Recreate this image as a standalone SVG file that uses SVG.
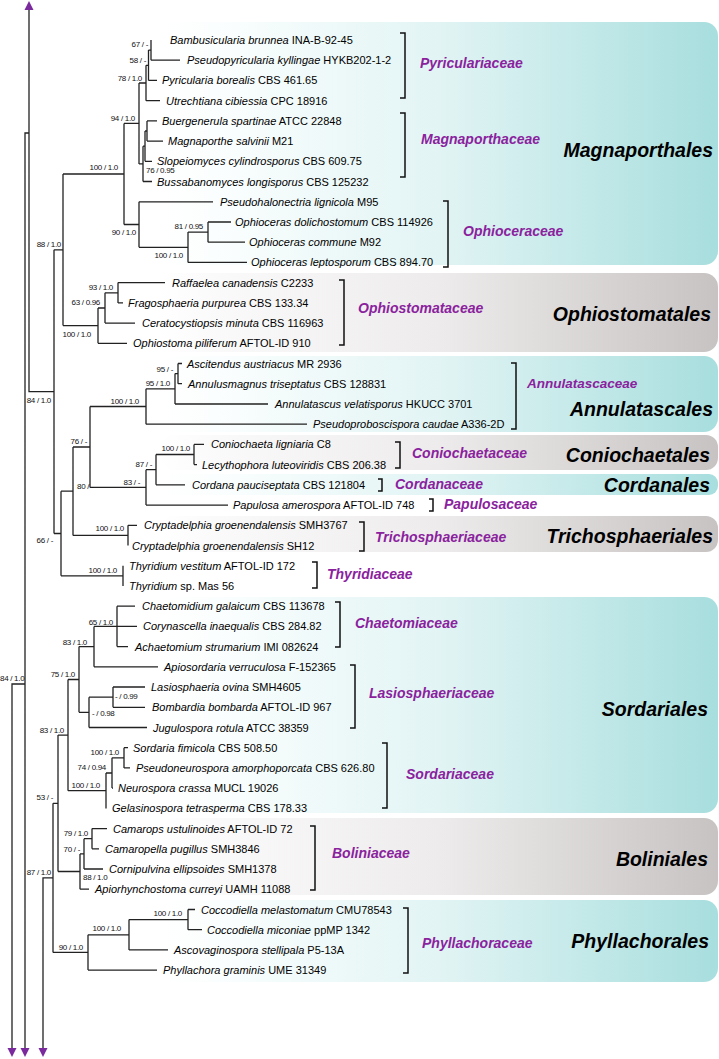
<svg xmlns="http://www.w3.org/2000/svg" width="719" height="1059" viewBox="0 0 719 1059">
<style>
.tx{font-family:"Liberation Sans",Arial,sans-serif;font-size:11px;fill:#000}
.i{font-style:italic}
.bs{font-family:"Liberation Sans Narrow","Liberation Sans",Arial,sans-serif;font-size:8px;fill:#111;letter-spacing:-0.3px}
.e{text-anchor:end}
.fam{font-family:"Liberation Sans",Arial,sans-serif;font-size:14px;font-weight:bold;font-style:italic;fill:#8a229e}
.ord{font-family:"Liberation Sans",Arial,sans-serif;font-size:19.5px;font-weight:bold;font-style:italic;fill:#000;text-anchor:end}
.br{fill:none;stroke:#111;stroke-width:1.5}
.tree{fill:none;stroke:#222;stroke-width:1.3}
.arr{fill:#7b2a9e}
</style>
<defs>
<linearGradient id="gTeal" x1="0" y1="0" x2="1" y2="0">
<stop offset="0" stop-color="#ffffff"/>
<stop offset="0.1" stop-color="#fbfefe"/>
<stop offset="0.5" stop-color="#e2f4f4"/>
<stop offset="1" stop-color="#a8dede"/>
</linearGradient>
<linearGradient id="gGray" x1="0" y1="0" x2="1" y2="0">
<stop offset="0" stop-color="#ffffff"/>
<stop offset="0.1" stop-color="#fbfafa"/>
<stop offset="0.5" stop-color="#edebeb"/>
<stop offset="1" stop-color="#c8c3c3"/>
</linearGradient>
<path id="aDown" d="M-4.5,-9 L4.5,-9 L0,0 Z"/>
</defs>
<rect width="719" height="1059" fill="#fff"/>
<g id="order-boxes">
<rect x="160" y="22" width="558" height="243" rx="14" fill="url(#gTeal)"/>
<rect x="160" y="273" width="558" height="79" rx="14" fill="url(#gGray)"/>
<rect x="160" y="356" width="558" height="76" rx="14" fill="url(#gTeal)"/>
<rect x="160" y="435" width="558" height="35" rx="12" fill="url(#gGray)"/>
<rect x="160" y="474" width="558" height="21" rx="9" fill="url(#gTeal)"/>
<rect x="160" y="516" width="558" height="36" rx="12" fill="url(#gGray)"/>
<rect x="160" y="597" width="558" height="216" rx="14" fill="url(#gTeal)"/>
<rect x="160" y="818" width="558" height="77" rx="14" fill="url(#gGray)"/>
<rect x="160" y="900" width="558" height="82" rx="14" fill="url(#gTeal)"/>
</g>
<g id="connectors">
<path class="tree" d="M29,9 V391.7 H54 M29,133 H25 V1049 M25,684 H12 V1049 M53,877.9 H43 V1049
M54,249.8 V533.5 M54,249.8 H63 M63,174 V325.6
M63,174 H124 M124,123.4 V224.5
M124,123.4 H139 M139,83 V163.9
M139,83 H146 M146,65.3 V100.7 M146,100.7 H160
M146,65.3 H148.5 M148.5,50.1 V80.4 M148.5,80.4 H157
M148.5,50.1 H151 M151,40 V60.2 M151,60.2 H180
M139,163.9 H143 M143,146.2 V181.5 M143,181.5 H152
M143,146.2 H145 M145,131 V161.3 M145,161.3 H152
M145,131 H147 M147,120.9 V141.1 M147,120.9 H157 M147,141.1 H163
M124,224.5 H139 M139,201.8 V247.3 M139,201.8 H213
M139,247.3 H188 M188,232.1 V262.4 M188,262.4 H247
M188,232.1 H208 M208,222 V242.2 M208,222 H231 M208,242.2 H245
M63,325.6 H98 M98,308 V343.3 M98,343.3 H127
M98,308 H105 M105,292.8 V323.1 M105,323.1 H135
M105,292.8 H118 M118,282.6 V302.9 M118,282.6 H165 M118,302.9 H123
M54,533.5 H61 M61,491.2 V575.8
M61,575.8 H123 M123,565.7 V585.9
M61,491.2 H73 M73,447 V535.4
M73,535.4 H128 M128,525.3 V545.5 M128,525.3 H137
M73,447 H90 M90,406.5 V487.4
M90,406.5 H146 M146,388.8 V424.2 M146,424.2 H307
M146,388.8 H175 M175,373.6 V404 M175,404 H268
M175,373.6 H178 M178,363.5 V383.7 M178,363.5 H182 M178,383.7 H182
M90,487.4 H146 M146,469.7 V505.1 M146,505.1 H228
M146,469.7 H156 M156,454.5 V484.8 M156,484.8 H185
M156,454.5 H194 M194,444.4 V464.6 M194,444.4 H204 M194,464.6 H197
M53,803.3 V952.4
M53,803.3 H58 M58,735.1 V871.5
M58,735.1 H68 M68,679.5 V790.7
M68,679.5 H79 M79,646.6 V712.3
M79,646.6 H94 M94,626.4 V666.8 M94,666.8 H158
M94,626.4 H117 M117,606.2 V646.6 M117,606.2 H135 M117,626.4 H137 M117,646.6 H128
M79,712.3 H89 M89,697.2 V727.5 M89,727.5 H147
M89,697.2 H113 M113,687 V707.3 M113,687 H145 M113,707.3 H145
M68,790.7 H106 M106,773 V808.4
M106,773 H112 M112,757.8 V788.1 M112,788.1 H113
M112,757.8 H124 M124,747.7 V767.9 M124,747.7 H128 M124,767.9 H130
M58,871.5 H80 M80,853.9 V889.2 M80,889.2 H89
M80,853.9 H84 M84,838.7 V869 M84,869 H103
M84,838.7 H92 M92,828.6 V848.8 M92,828.6 H107 M92,848.8 H99
M53,952.4 H88 M88,934.8 V970.1 M88,970.1 H157
M88,934.8 H129 M129,919.6 V949.9 M129,949.9 H168
M129,919.6 H188 M188,909.5 V929.7 M188,909.5 H195 M188,929.7 H202"/>
<path class="arr" d="M24.5,10 L33.5,10 L29,1 Z"/>
<use href="#aDown" x="12" y="1057" class="arr"/>
<use href="#aDown" x="25" y="1057" class="arr"/>
<use href="#aDown" x="43" y="1057" class="arr"/>
</g>
<g id="support">
<text class="bs e" x="148" y="47">67 / -</text>
<text class="bs e" x="146" y="63">58 / -</text>
<text class="bs e" x="142" y="81">78 / 1.0</text>
<text class="bs e" x="135" y="121">94 / 1.0</text>
<text class="bs" x="146" y="173">76 / 0.95</text>
<text class="bs e" x="118" y="170">100 / 1.0</text>
<text class="bs e" x="136" y="235">90 / 1.0</text>
<text class="bs e" x="203" y="229">81 / 0.95</text>
<text class="bs e" x="183" y="258">100 / 1.0</text>
<text class="bs e" x="61" y="247">88 / 1.0</text>
<text class="bs e" x="113" y="290">93 / 1.0</text>
<text class="bs e" x="100" y="305">63 / 0.96</text>
<text class="bs e" x="91" y="337">100 / 1.0</text>
<text class="bs e" x="173" y="372">95 / -</text>
<text class="bs e" x="170" y="386">95 / 1.0</text>
<text class="bs e" x="139" y="404">100 / 1.0</text>
<text class="bs e" x="51" y="403">84 / 1.0</text>
<text class="bs e" x="87" y="444">76 / -</text>
<text class="bs e" x="190" y="451">100 / 1.0</text>
<text class="bs e" x="152" y="467">87 / -</text>
<text class="bs e" x="140" y="485">83 / -</text>
<text class="bs" x="77" y="489">80 / -</text>
<text class="bs e" x="124" y="531">100 / 1.0</text>
<text class="bs e" x="53" y="543">66 / -</text>
<text class="bs e" x="117" y="573">100 / 1.0</text>
<text class="bs e" x="113" y="625">65 / 1.0</text>
<text class="bs e" x="87" y="645">83 / 1.0</text>
<text class="bs e" x="75" y="677">75 / 1.0</text>
<text class="bs" x="115" y="699">- / 0.99</text>
<text class="bs" x="92" y="716">- / 0.98</text>
<text class="bs" x="0" y="681">84 / 1.0</text>
<text class="bs e" x="64" y="733">83 / 1.0</text>
<text class="bs e" x="119" y="755">100 / 1.0</text>
<text class="bs e" x="106" y="770">74 / 0.94</text>
<text class="bs e" x="100" y="788">100 / 1.0</text>
<text class="bs e" x="53" y="800">53 / -</text>
<text class="bs e" x="88" y="836">79 / 1.0</text>
<text class="bs e" x="80" y="852">70 / -</text>
<text class="bs" x="83" y="880">88 / 1.0</text>
<text class="bs e" x="51" y="875">87 / 1.0</text>
<text class="bs e" x="182" y="916">100 / 1.0</text>
<text class="bs e" x="121" y="931">100 / 1.0</text>
<text class="bs e" x="83" y="950">90 / 1.0</text>
</g>
<g id="taxa">
<g id="t01"><text class="tx" x="170" y="44"><tspan class="i">Bambusicularia brunnea</tspan> INA-B-92-45</text></g>
<g id="t02"><text class="tx" x="187" y="64.2"><tspan class="i">Pseudopyricularia kyllingae</tspan> HYKB202-1-2</text></g>
<g id="t03"><text class="tx" x="162" y="84.4"><tspan class="i">Pyricularia borealis</tspan> CBS 461.65</text></g>
<g id="t04"><text class="tx" x="166" y="104.7"><tspan class="i">Utrechtiana cibiessia</tspan> CPC 18916</text></g>
<g id="t05"><text class="tx" x="162" y="124.9"><tspan class="i">Buergenerula spartinae</tspan> ATCC 22848</text></g>
<g id="t06"><text class="tx" x="168" y="145.1"><tspan class="i">Magnaporthe salvinii</tspan> M21</text></g>
<g id="t07"><text class="tx" x="157" y="165.3"><tspan class="i">Slopeiomyces cylindrosporus</tspan> CBS 609.75</text></g>
<g id="t08"><text class="tx" x="157" y="185.5"><tspan class="i">Bussabanomyces longisporus</tspan> CBS 125232</text></g>
<g id="t09"><text class="tx" x="220" y="205.8"><tspan class="i">Pseudohalonectria lignicola</tspan> M95</text></g>
<g id="t10"><text class="tx" x="235" y="226"><tspan class="i">Ophioceras dolichostomum</tspan> CBS 114926</text></g>
<g id="t11"><text class="tx" x="249" y="246.2"><tspan class="i">Ophioceras commune</tspan> M92</text></g>
<g id="t12"><text class="tx" x="251" y="266.4"><tspan class="i">Ophioceras leptosporum</tspan> CBS 894.70</text></g>
<g id="t13"><text class="tx" x="172" y="286.6"><tspan class="i">Raffaelea canadensis</tspan> C2233</text></g>
<g id="t14"><text class="tx" x="128" y="306.9"><tspan class="i">Fragosphaeria purpurea</tspan> CBS 133.34</text></g>
<g id="t15"><text class="tx" x="142" y="327.1"><tspan class="i">Ceratocystiopsis minuta</tspan> CBS 116963</text></g>
<g id="t16"><text class="tx" x="133" y="347.3"><tspan class="i">Ophiostoma piliferum</tspan> AFTOL-ID 910</text></g>
<g id="t17"><text class="tx" x="187" y="367.5"><tspan class="i">Ascitendus austriacus</tspan> MR 2936</text></g>
<g id="t18"><text class="tx" x="188" y="387.7"><tspan class="i">Annulusmagnus triseptatus</tspan> CBS 128831</text></g>
<g id="t19"><text class="tx" x="275" y="408"><tspan class="i">Annulatascus velatisporus</tspan> HKUCC 3701</text></g>
<g id="t20"><text class="tx" x="313" y="428.2"><tspan class="i">Pseudoproboscispora caudae</tspan> A336-2D</text></g>
<g id="t21"><text class="tx" x="211" y="448.4"><tspan class="i">Coniochaeta ligniaria</tspan> C8</text></g>
<g id="t22"><text class="tx" x="202" y="468.6"><tspan class="i">Lecythophora luteoviridis</tspan> CBS 206.38</text></g>
<g id="t23"><text class="tx" x="192" y="488.8"><tspan class="i">Cordana pauciseptata</tspan> CBS 121804</text></g>
<g id="t24"><text class="tx" x="233" y="509.1"><tspan class="i">Papulosa amerospora</tspan> AFTOL-ID 748</text></g>
<g id="t25"><text class="tx" x="144" y="529.3"><tspan class="i">Cryptadelphia groenendalensis</tspan> SMH3767</text></g>
<g id="t26"><text class="tx" x="132" y="549.5"><tspan class="i">Cryptadelphia groenendalensis</tspan> SH12</text></g>
<g id="t27"><text class="tx" x="129" y="569.7"><tspan class="i">Thyridium vestitum</tspan> AFTOL-ID 172</text></g>
<g id="t28"><text class="tx" x="129" y="589.9"><tspan class="i">Thyridium</tspan> sp. Mas 56</text></g>
<g id="t29"><text class="tx" x="142" y="610.2"><tspan class="i">Chaetomidium galaicum</tspan> CBS 113678</text></g>
<g id="t30"><text class="tx" x="143" y="630.4"><tspan class="i">Corynascella inaequalis</tspan> CBS 284.82</text></g>
<g id="t31"><text class="tx" x="135" y="650.6"><tspan class="i">Achaetomium strumarium</tspan> IMI 082624</text></g>
<g id="t32"><text class="tx" x="164" y="670.8"><tspan class="i">Apiosordaria verruculosa</tspan> F-152365</text></g>
<g id="t33"><text class="tx" x="151" y="691"><tspan class="i">Lasiosphaeria ovina</tspan> SMH4605</text></g>
<g id="t34"><text class="tx" x="152" y="711.3"><tspan class="i">Bombardia bombarda</tspan> AFTOL-ID 967</text></g>
<g id="t35"><text class="tx" x="153" y="731.5"><tspan class="i">Jugulospora rotula</tspan> ATCC 38359</text></g>
<g id="t36"><text class="tx" x="133" y="751.7"><tspan class="i">Sordaria fimicola</tspan> CBS 508.50</text></g>
<g id="t37"><text class="tx" x="136" y="771.9"><tspan class="i">Pseudoneurospora amorphoporcata</tspan> CBS 626.80</text></g>
<g id="t38"><text class="tx" x="118" y="792.1"><tspan class="i">Neurospora crassa</tspan> MUCL 19026</text></g>
<g id="t39"><text class="tx" x="112" y="812.4"><tspan class="i">Gelasinospora tetrasperma</tspan> CBS 178.33</text></g>
<g id="t40"><text class="tx" x="113" y="832.6"><tspan class="i">Camarops ustulinoides</tspan> AFTOL-ID 72</text></g>
<g id="t41"><text class="tx" x="105" y="852.8"><tspan class="i">Camaropella pugillus</tspan> SMH3846</text></g>
<g id="t42"><text class="tx" x="109" y="873"><tspan class="i">Cornipulvina ellipsoides</tspan> SMH1378</text></g>
<g id="t43"><text class="tx" x="95" y="893.2"><tspan class="i">Apiorhynchostoma curreyi</tspan> UAMH 11088</text></g>
<g id="t44"><text class="tx" x="201" y="913.5"><tspan class="i">Coccodiella melastomatum</tspan> CMU78543</text></g>
<g id="t45"><text class="tx" x="207" y="933.7"><tspan class="i">Coccodiella miconiae</tspan> ppMP 1342</text></g>
<g id="t46"><text class="tx" x="174" y="953.9"><tspan class="i">Ascovaginospora stellipala</tspan> P5-13A</text></g>
<g id="t47"><text class="tx" x="163" y="974.1"><tspan class="i">Phyllachora graminis</tspan> UME 31349</text></g>
</g>
<g id="families">
<g id="f-Pyriculariaceae"><path class="br" d="M400,33 H405 V98 H400"/><text class="fam" x="420" y="68">Pyriculariaceae</text></g>
<g id="f-Magnaporthaceae"><path class="br" d="M400,113 H405 V177 H400"/><text class="fam" x="421" y="144">Magnaporthaceae</text></g>
<g id="f-Ophioceraceae"><path class="br" d="M443,201 H448 V267 H443"/><text class="fam" x="463" y="236">Ophioceraceae</text></g>
<g id="f-Ophiostomataceae"><path class="br" d="M339,280 H344 V345 H339"/><text class="fam" x="358" y="313">Ophiostomataceae</text></g>
<g id="f-Annulatascaceae"><path class="br" d="M511,363 H516 V429 H511"/><text class="fam" x="527" y="388" style="font-size:13.5px">Annulatascaceae</text></g>
<g id="f-Coniochaetaceae"><path class="br" d="M395,442 H400 V468 H395"/><text class="fam" x="412" y="458">Coniochaetaceae</text></g>
<g id="f-Cordanaceae"><path class="br" d="M378,479 H382 V491 H378"/><text class="fam" x="395" y="489">Cordanaceae</text></g>
<g id="f-Papulosaceae"><path class="br" d="M429,499 H433 V511 H429"/><text class="fam" x="444" y="509">Papulosaceae</text></g>
<g id="f-Trichosphaeriaceae"><path class="br" d="M359,522 H364 V551 H359"/><text class="fam" x="375" y="542">Trichosphaeriaceae</text></g>
<g id="f-Thyridiaceae"><path class="br" d="M312,562 H317 V588 H312"/><text class="fam" x="327" y="579">Thyridiaceae</text></g>
<g id="f-Chaetomiaceae"><path class="br" d="M335,602 H340 V647 H335"/><text class="fam" x="355" y="628">Chaetomiaceae</text></g>
<g id="f-Lasiosphaeriaceae"><path class="br" d="M350,665 H355 V728 H350"/><text class="fam" x="369" y="698">Lasiosphaeriaceae</text></g>
<g id="f-Sordariaceae"><path class="br" d="M382,743 H387 V808 H382"/><text class="fam" x="406" y="779">Sordariaceae</text></g>
<g id="f-Boliniaceae"><path class="br" d="M310,826 H315 V890 H310"/><text class="fam" x="332" y="858">Boliniaceae</text></g>
<g id="f-Phyllachoraceae"><path class="br" d="M403,908 H408 V973 H403"/><text class="fam" x="422" y="948">Phyllachoraceae</text></g>
</g>
<g id="orders">
<text class="ord" x="713" y="157">Magnaporthales</text>
<text class="ord" x="711" y="321">Ophiostomatales</text>
<text class="ord" x="713" y="416">Annulatascales</text>
<text class="ord" x="710" y="462">Coniochaetales</text>
<text class="ord" x="710" y="492">Cordanales</text>
<text class="ord" x="713" y="543">Trichosphaeriales</text>
<text class="ord" x="708" y="716">Sordariales</text>
<text class="ord" x="708" y="866">Boliniales</text>
<text class="ord" x="709" y="948">Phyllachorales</text>
</g>
</svg>
